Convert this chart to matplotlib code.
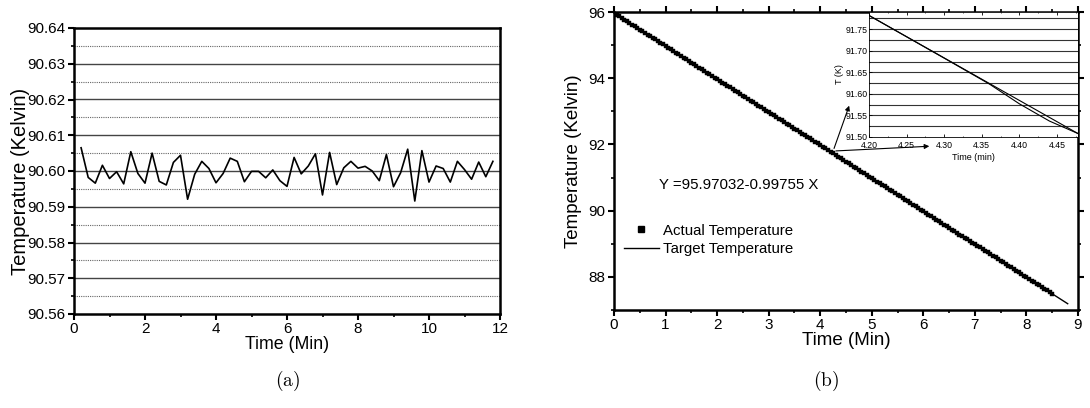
import numpy as np
import matplotlib
matplotlib.use("Agg")
import matplotlib.pyplot as plt
from matplotlib.ticker import MultipleLocator, FormatStrFormatter
from matplotlib.lines import Line2D

plt.rcParams['font.family'] = ['Liberation Sans', 'DejaVu Sans']
plt.rcParams['mathtext.fontset'] = 'cm'

# ---- Panel (a): temperature stability ----
time_a = [0.2, 0.4, 0.6, 0.8, 1.0, 1.2, 1.4, 1.6, 1.8, 2.0, 2.2, 2.4, 2.6, 2.8, 3.0,
          3.2, 3.4, 3.6, 3.8, 4.0, 4.2, 4.4, 4.6, 4.8, 5.0, 5.2, 5.4, 5.6, 5.8, 6.0,
          6.2, 6.4, 6.6, 6.8, 7.0, 7.2, 7.4, 7.6, 7.8, 8.0, 8.2, 8.4, 8.6, 8.8, 9.0,
          9.2, 9.4, 9.6, 9.8, 10.0, 10.2, 10.4, 10.6, 10.8, 11.0, 11.2, 11.4, 11.6, 11.8]
temp_a = [90.6065, 90.5982, 90.5966, 90.6016, 90.5979, 90.5998, 90.5964, 90.6054, 90.5993,
          90.5966, 90.6050, 90.5971, 90.5961, 90.6024, 90.6044, 90.5921, 90.5991, 90.6027,
          90.6007, 90.5967, 90.5993, 90.6036, 90.6027, 90.5970, 90.5999, 90.5999, 90.5981,
          90.6003, 90.5973, 90.5957, 90.6038, 90.5992, 90.6014, 90.6048, 90.5933, 90.6052,
          90.5962, 90.6009, 90.6027, 90.6008, 90.6013, 90.6000, 90.5973, 90.6046, 90.5956,
          90.5995, 90.6061, 90.5916, 90.6057, 90.5969, 90.6014, 90.6007, 90.5969, 90.6027,
          90.6004, 90.5977, 90.6025, 90.5984, 90.6027]

# ---- Panel (b): ramp ----
time_b = [round(0.05 * i, 2) for i in range(171)]
actual_b = [
    95.97, 95.92, 95.87, 95.82, 95.77, 95.72, 95.67, 95.62, 95.57, 95.52,
    95.47, 95.42, 95.37, 95.32, 95.27, 95.22, 95.17, 95.12, 95.07, 95.02,
    94.97, 94.92, 94.87, 94.82, 94.77, 94.72, 94.67, 94.62, 94.57, 94.52,
    94.47, 94.42, 94.37, 94.32, 94.27, 94.22, 94.17, 94.12, 94.07, 94.02,
    93.97, 93.92, 93.87, 93.82, 93.77, 93.72, 93.67, 93.62, 93.57, 93.52,
    93.47, 93.42, 93.37, 93.32, 93.27, 93.22, 93.17, 93.12, 93.07, 93.02,
    92.98, 92.93, 92.88, 92.83, 92.78, 92.73, 92.68, 92.63, 92.58, 92.53,
    92.48, 92.43, 92.38, 92.33, 92.28, 92.23, 92.18, 92.13, 92.08, 92.03,
    91.98, 91.93, 91.88, 91.83, 91.78, 91.73, 91.68, 91.63, 91.58, 91.53,
    91.48, 91.43, 91.38, 91.33, 91.28, 91.23, 91.18, 91.13, 91.08, 91.03,
    90.98, 90.93, 90.88, 90.83, 90.78, 90.73, 90.68, 90.63, 90.58, 90.53,
    90.48, 90.43, 90.38, 90.33, 90.28, 90.23, 90.18, 90.13, 90.08, 90.03,
    89.98, 89.93, 89.88, 89.83, 89.78, 89.73, 89.68, 89.63, 89.58, 89.53,
    89.48, 89.43, 89.38, 89.33, 89.28, 89.23, 89.18, 89.13, 89.08, 89.03,
    88.99, 88.94, 88.89, 88.84, 88.79, 88.74, 88.69, 88.64, 88.59, 88.54,
    88.49, 88.44, 88.39, 88.34, 88.29, 88.24, 88.19, 88.14, 88.09, 88.04,
    87.99, 87.94, 87.89, 87.84, 87.79, 87.74, 87.69, 87.64, 87.59, 87.54,
    87.49]
target_time = [0.0, 8.8]
target_temp = [95.97, 87.19]

# inset data
inset_target_t = [4.20, 4.478]
inset_target_T = [91.782, 91.508]
inset_actual_t = [4.20, 4.30, 4.36, 4.40, 4.44, 4.478]
inset_actual_T = [91.782, 91.683, 91.623, 91.577, 91.537, 91.508]

fig = plt.figure(figsize=(10.9, 4.08), dpi=100)

# ================= Panel (a) =================
ax = fig.add_axes([74/1090, 1-314/408, 426/1090, 286/408])
ax.set_xlim(0, 12)
ax.set_ylim(90.56, 90.64)
for y in np.arange(90.57, 90.635, 0.01):
    ax.axhline(y, color='#444444', lw=1.0, zorder=1)
for y in np.arange(90.565, 90.64, 0.01):
    ax.axhline(y, color='#666666', lw=0.8, ls=(0, (1, 1)), zorder=1)
ax.plot(time_a, temp_a, color='black', lw=1.2, zorder=3)
ax.xaxis.set_major_locator(MultipleLocator(2))
ax.xaxis.set_minor_locator(MultipleLocator(1))
ax.yaxis.set_major_locator(MultipleLocator(0.01))
ax.yaxis.set_minor_locator(MultipleLocator(0.005))
ax.yaxis.set_major_formatter(FormatStrFormatter('%.2f'))
ax.tick_params(which='major', direction='out', length=4, width=1.5, labelsize=11, pad=2)
ax.tick_params(which='minor', direction='out', length=2.5, width=1.2)
for s in ax.spines.values():
    s.set_linewidth(1.8)
ax.set_xlabel('Time (Min)', fontsize=12.8, labelpad=0)
ax.set_ylabel('Temperature (Kelvin)', fontsize=14.5)
ax.yaxis.set_label_coords(-0.104, 0.465)

# ================= Panel (b) =================
bx = fig.add_axes([614/1090, 1-310/408, 464/1090, 298/408])
bx.set_xlim(0, 9)
bx.set_ylim(87, 96)
bx.plot(time_b, actual_b, ls='none', marker='s', ms=2.8, color='black',
        mec='black', mew=0.3, zorder=3)
bx.plot(target_time, target_temp, color='black', lw=1.0, zorder=4)
bx.xaxis.set_major_locator(MultipleLocator(1))
bx.xaxis.set_minor_locator(MultipleLocator(0.5))
bx.yaxis.set_major_locator(MultipleLocator(2))
bx.yaxis.set_minor_locator(MultipleLocator(1))
bx.tick_params(which='major', direction='out', length=4, width=1.5, labelsize=11, pad=2)
bx.tick_params(which='minor', direction='out', length=2.5, width=1.2)
bx.tick_params(which='both', top=True, right=True)
for s in bx.spines.values():
    s.set_linewidth(1.8)
bx.set_xlabel('Time (Min)', fontsize=13.5, labelpad=0)
bx.set_ylabel('Temperature (Kelvin)', fontsize=13.5, labelpad=5)
bx.text(0.87, 90.77, 'Y =95.97032-0.99755 X', fontsize=10.8, va='center', ha='left')

h_act = Line2D([], [], ls='none', marker='s', ms=4, color='black')
h_tgt = Line2D([], [], color='black', lw=1.0)
leg = bx.legend([h_act, h_tgt], ['Actual Temperature', 'Target Temperature'],
                loc='upper left', bbox_to_anchor=(0.022, 0.29), frameon=False,
                fontsize=10.8, handlelength=2.3, handletextpad=0.3,
                labelspacing=0.3, borderpad=0, borderaxespad=0)

# arrows
for tip in [(4.58, 93.25), (6.17, 91.95)]:
    bx.annotate('', xy=tip, xytext=(4.25, 91.80),
                arrowprops=dict(arrowstyle='-|>', color='black', lw=0.8,
                                mutation_scale=7), zorder=6)

# ================= Inset =================
ix = fig.add_axes([869/1090, 1-137/408, 209/1090, 125/408])
ix.set_xlim(4.20, 4.478)
ix.set_ylim(91.50, 91.79)
for y in np.arange(91.525, 91.79, 0.025):
    ix.axhline(y, color='#333333', lw=0.8, zorder=1)
ix.plot(inset_target_t, inset_target_T, color='black', lw=0.8, zorder=3)
ix.plot(inset_actual_t, inset_actual_T, color='black', lw=0.8, zorder=3)
ix.xaxis.set_major_locator(MultipleLocator(0.05))
ix.xaxis.set_minor_locator(MultipleLocator(0.025))
ix.yaxis.set_major_locator(MultipleLocator(0.05))
ix.yaxis.set_minor_locator(MultipleLocator(0.025))
ix.xaxis.set_major_formatter(FormatStrFormatter('%.2f'))
ix.yaxis.set_major_formatter(FormatStrFormatter('%.2f'))
ix.tick_params(which='major', direction='in', length=2, width=0.6, labelsize=6.3, pad=1)
ix.tick_params(axis='x', which='major', pad=3)
ix.tick_params(which='minor', direction='in', length=1, width=0.5)
ix.tick_params(which='both', top=True)
for s in ix.spines.values():
    s.set_linewidth(0.6)
ix.set_xlabel('Time (min)', fontsize=6.5, labelpad=2)
ix.set_ylabel('T (K)', fontsize=6.5, labelpad=1)

# captions
fig.text(288/1090, 1-381/408, r'$\mathrm{(a)}$', fontsize=14, ha='center', va='center')
fig.text(826/1090, 1-381/408, r'$\mathrm{(b)}$', fontsize=14, ha='center', va='center')

fig.savefig('out.png', dpi=100)
